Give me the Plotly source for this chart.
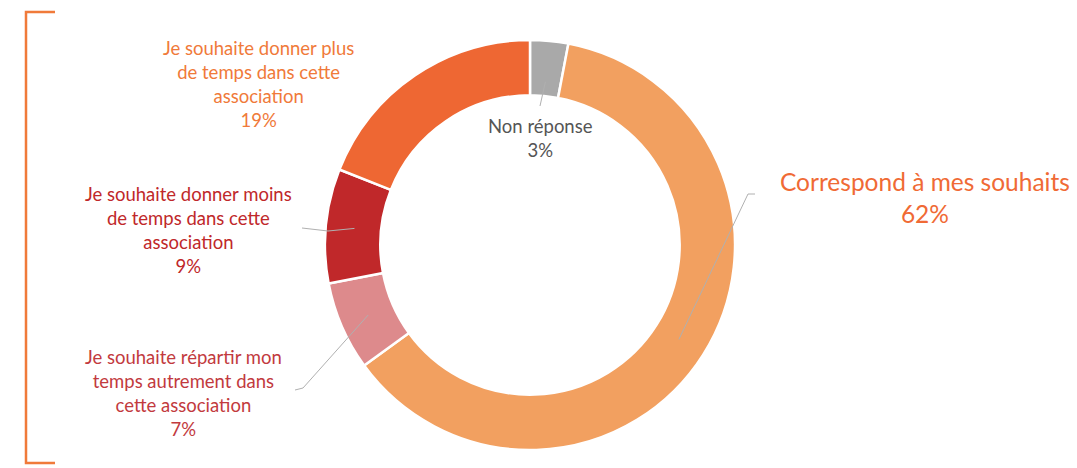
import math
import plotly.graph_objects as go

labels = ["Non réponse", "Correspond à mes souhaits",
          "Je souhaite répartir mon temps autrement dans cette association",
          "Je souhaite donner moins de temps dans cette association",
          "Je souhaite donner plus de temps dans cette association"]
values = [3, 62, 7, 9, 19]
colors = ["#A9A9A9", "#F2A060", "#DD8A8C", "#C0282A", "#EE6733"]
label_texts = ["Non réponse<br>3%", "Correspond à mes souhaits<br>62%",
               "Je souhaite répartir mon<br>temps autrement dans<br>cette association<br>7%",
               "Je souhaite donner moins<br>de temps dans cette<br>association<br>9%",
               "Je souhaite donner plus<br>de temps dans cette<br>association<br>19%"]
text_colors = ["#555555", "#F06A35", "#C23A3E", "#C0282A", "#F07A3A"]

W, H = 1077, 468
cx, cy, R = 530, 245, 205

fig = go.Figure()
fig.add_trace(go.Pie(
    labels=labels, values=values, hole=0.73, sort=False, direction="clockwise",
    rotation=0, textinfo="none", hoverinfo="label+percent",
    marker=dict(colors=colors, line=dict(color="white", width=2.5)),
    domain=dict(x=[(cx - R) / W, (cx + R) / W], y=[(H - cy - R) / H, (H - cy + R) / H]),
    showlegend=False,
))

# label positions (pixels) and leader line knees
label_pos = [(540, 138), (925, 197), (183, 393), (188, 230), (258, 84)]
font_sizes = [18.5, 24.5, 18.5, 18.5, 18.5]
leaders = [
    [(540, 106)],
    [(755, 194), (748, 194)],
    [(295, 390), (303, 388)],
    [(302, 228), (328, 231)],
    None,
]
leader_r = [0.80, 0.86, 0.86, 0.86, 0.86]

total = sum(values)
cum = 0
shapes = []
for i, v in enumerate(values):
    mid = (cum + v / 2) / total * 2 * math.pi
    cum += v
    if leaders[i] is None:
        continue
    ex = cx + R * leader_r[i] * math.sin(mid)
    ey = cy - R * leader_r[i] * math.cos(mid)
    pts = leaders[i] + [(ex, ey)]
    path = "M " + " L ".join(f"{x},{y}" for x, y in pts)
    shapes.append(dict(type="path", path=path, xref="x", yref="y",
                       line=dict(color="#B0B0B0", width=1)))

# orange bracket on the left
shapes.append(dict(type="path", path="M 55,12 L 26,12 L 26,463 L 55,463",
                   xref="x", yref="y", line=dict(color="#F07A3A", width=2.5)))

annotations = []
for i, t in enumerate(label_texts):
    x, y = label_pos[i]
    annotations.append(dict(x=x, y=y, xref="x", yref="y", text=t, showarrow=False,
                            align="center", xanchor="center", yanchor="middle",
                            font=dict(family="Lato, Open Sans, sans-serif",
                                      size=font_sizes[i], color=text_colors[i])))

fig.update_layout(
    width=W, height=H, margin=dict(l=0, r=0, t=0, b=0),
    paper_bgcolor="white", plot_bgcolor="rgba(0,0,0,0)",
    xaxis=dict(range=[0, W], visible=False, fixedrange=True),
    yaxis=dict(range=[H, 0], visible=False, fixedrange=True),
    shapes=shapes, annotations=annotations,
)
fig.write_html("out.html", config={"displayModeBar": False},
               post_script="document.body.style.margin='0';document.body.style.overflow='hidden';")
